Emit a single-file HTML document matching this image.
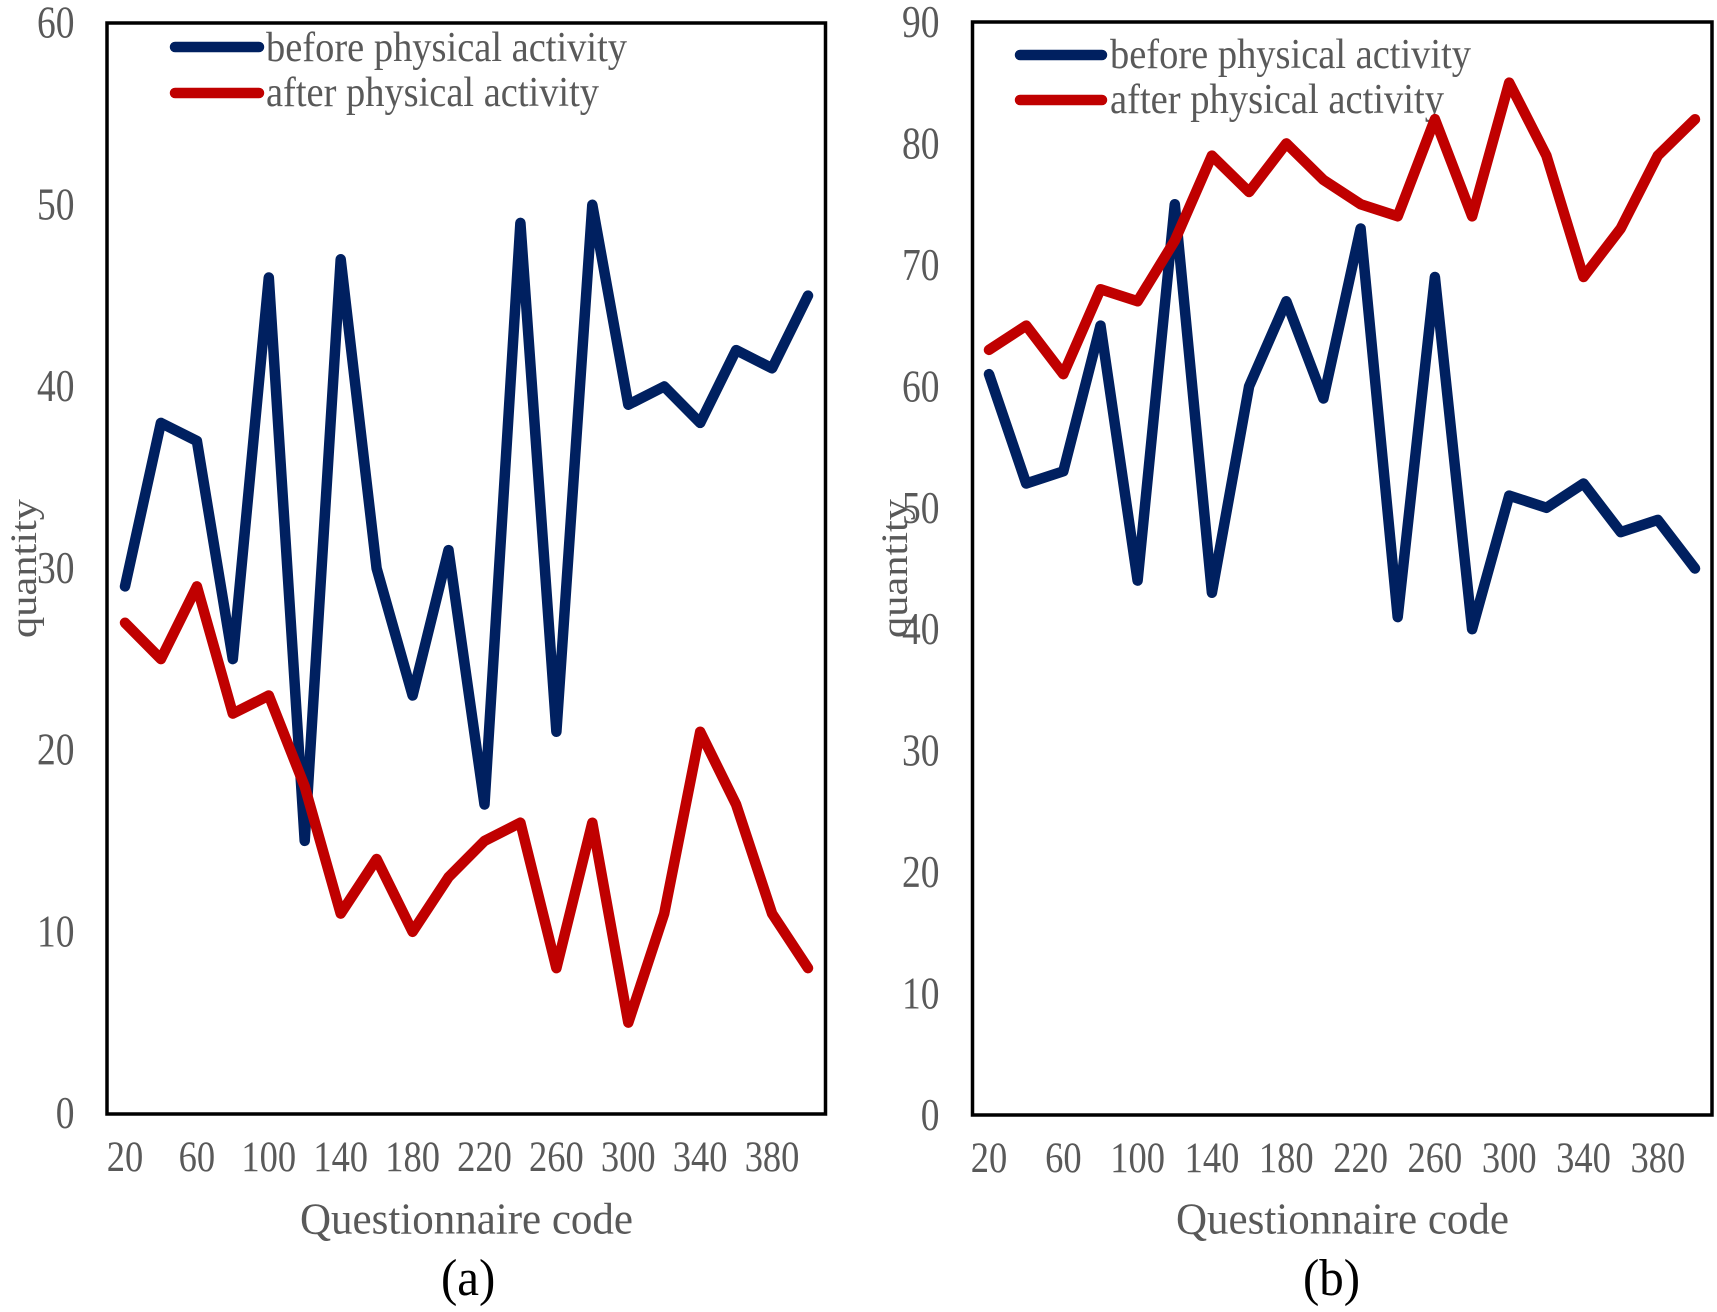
<!DOCTYPE html>
<html lang="en">
<head>
<meta charset="utf-8">
<title>Quantity before and after physical activity</title>
<style>
  html, body { margin: 0; padding: 0; background: #fff; }
  svg { display: block; }
  text { font-family: "Liberation Serif", "Times New Roman", serif; fill: #595959; }
</style>
</head>
<body>
<svg id="figure" xmlns="http://www.w3.org/2000/svg" width="1717" height="1312" viewBox="0 0 1717 1312">
  <rect width="1717" height="1312" fill="#ffffff"/>
  <g id="chart-a">
    <rect x="107" y="23" width="718.5" height="1091" fill="none" stroke="#000" stroke-width="3.5"/>
    <text transform="translate(36,638) rotate(-90)" font-size="37" textLength="139" lengthAdjust="spacingAndGlyphs">quantity</text>
    <text transform="translate(300,1233.5) scale(1,1.18)" font-size="38" textLength="333" lengthAdjust="spacingAndGlyphs">Questionnaire code</text>
    <text transform="translate(441,1295) scale(1,1.05)" font-size="49" style="fill:#000">(a)</text>
    <line x1="175" y1="47" x2="259" y2="47" stroke="#002060" stroke-width="10.5" stroke-linecap="round"/>
    <text transform="translate(266,61) scale(1,1.18)" font-size="36" textLength="361" lengthAdjust="spacingAndGlyphs">before physical activity</text>
    <line x1="175" y1="93" x2="259" y2="93" stroke="#C00000" stroke-width="10.5" stroke-linecap="round"/>
    <text transform="translate(266,106) scale(1,1.18)" font-size="36" textLength="333" lengthAdjust="spacingAndGlyphs">after physical activity</text>
  </g>
  <g id="chart-b">
    <rect x="972.5" y="22" width="739.5" height="1093" fill="none" stroke="#000" stroke-width="3.5"/>
    <text transform="translate(907,638) rotate(-90)" font-size="37" textLength="139" lengthAdjust="spacingAndGlyphs">quantity</text>
    <text transform="translate(1176,1233.5) scale(1,1.18)" font-size="38" textLength="333" lengthAdjust="spacingAndGlyphs">Questionnaire code</text>
    <text transform="translate(1303,1295) scale(1,1.05)" font-size="49" style="fill:#000">(b)</text>
    <line x1="1020" y1="55" x2="1102" y2="55" stroke="#002060" stroke-width="10.5" stroke-linecap="round"/>
    <text transform="translate(1110,68) scale(1,1.18)" font-size="36" textLength="361" lengthAdjust="spacingAndGlyphs">before physical activity</text>
    <line x1="1020" y1="100" x2="1102" y2="100" stroke="#C00000" stroke-width="10.5" stroke-linecap="round"/>
    <text transform="translate(1110,113) scale(1,1.18)" font-size="36" textLength="334" lengthAdjust="spacingAndGlyphs">after physical activity</text>
  </g>
</svg>
<script>
const codes = [20, 40, 60, 80, 100, 120, 140, 160, 180, 200, 220, 240, 260, 280, 300, 320, 340, 360, 380, 400];
const xTickLabels = [20, 60, 100, 140, 180, 220, 260, 300, 340, 380];
const yTicksA = [0, 10, 20, 30, 40, 50, 60];
const yTicksB = [0, 10, 20, 30, 40, 50, 60, 70, 80, 90];
const beforeA = [29, 38, 37, 25, 46, 15, 47, 30, 23, 31, 17, 49, 21, 50, 39, 40, 38, 42, 41, 45];
const afterA = [27, 25, 29, 22, 23, 18, 11, 14, 10, 13, 15, 16, 8, 16, 5, 11, 21, 17, 11, 8];
const beforeB = [61, 52, 53, 65, 44, 75, 43, 60, 67, 59, 73, 41, 69, 40, 51, 50, 52, 48, 49, 45];
const afterB = [63, 65, 61, 68, 67, 72, 79, 76, 80, 77, 75, 74, 82, 74, 85, 79, 69, 73, 79, 82];

const SVG_NS = 'http://www.w3.org/2000/svg';

function makeScale(d0, d1, r0, r1) {
  return function (v) { return r0 + (v - d0) * (r1 - r0) / (d1 - d0); };
}

function drawSeries(parent, values, xScale, yScale, color, name) {
  const line = document.createElementNS(SVG_NS, 'polyline');
  
  
  line.setAttribute('points', values.map(function (v, i) {
    return xScale(codes[i]).toFixed(1) + ',' + yScale(v).toFixed(1);
  }).join(' '));
  line.setAttribute('fill', 'none');
  line.setAttribute('stroke', color);
  line.setAttribute('stroke-width', '10.5');
  line.setAttribute('stroke-linejoin', 'round');
  line.setAttribute('stroke-linecap', 'round');
  parent.appendChild(line);
}

function drawXTicks(parent, xScale, baseline) {
  xTickLabels.forEach(function (label) {
    const t = document.createElementNS(SVG_NS, 'text');
    
    
    t.setAttribute('transform', 'translate(' + xScale(label) + ',' + baseline + ') scale(1,1.2)');
    t.setAttribute('font-size', '36.5');
    t.setAttribute('text-anchor', 'middle');
    t.textContent = label;
    parent.appendChild(t);
  });
}

function drawYTicks(parent, ticks, yScale, right, offset) {
  ticks.forEach(function (label) {
    const t = document.createElementNS(SVG_NS, 'text');
    
    
    t.setAttribute('transform', 'translate(' + right + ',' + (yScale(label) + offset) + ') scale(1,1.2)');
    t.setAttribute('font-size', '37.5');
    t.setAttribute('text-anchor', 'end');
    t.textContent = label;
    parent.appendChild(t);
  });
}

const chartA = document.getElementById('chart-a');
const xA = makeScale(20, 400, 125, 808);
const yA = makeScale(0, 60, 1113.5, 23);
drawXTicks(chartA, xA, 1171);
drawYTicks(chartA, yTicksA, yA, 74.5, 14.5);
drawSeries(chartA, beforeA, xA, yA, '#002060', 'series-before-a');
drawSeries(chartA, afterA, xA, yA, '#C00000', 'series-after-a');

const chartB = document.getElementById('chart-b');
const xB = makeScale(20, 400, 989, 1695);
const yB = makeScale(0, 90, 1115, 22);
drawXTicks(chartB, xB, 1172);
drawYTicks(chartB, yTicksB, yB, 939.5, 15);
drawSeries(chartB, beforeB, xB, yB, '#002060', 'series-before-b');
drawSeries(chartB, afterB, xB, yB, '#C00000', 'series-after-b');
</script>
</body>
</html>
